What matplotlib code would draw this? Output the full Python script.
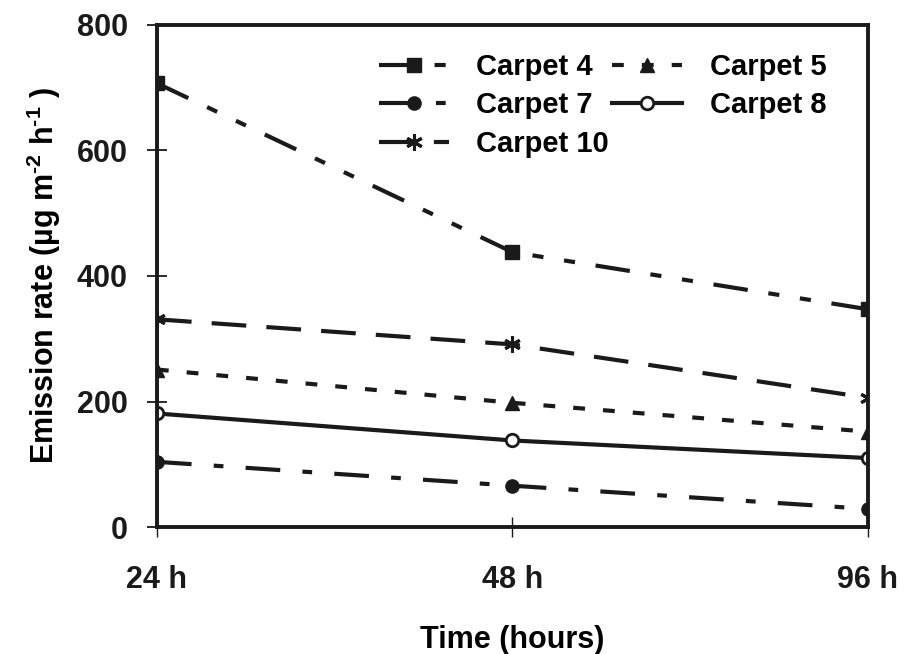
import matplotlib.pyplot as plt
import numpy as np

plt.rcParams['font.family'] = ['Liberation Sans', 'DejaVu Sans']
plt.rcParams['font.weight'] = 'bold'
plt.rcParams['mathtext.fontset'] = 'custom'
plt.rcParams['mathtext.rm'] = 'Liberation Sans:bold'
plt.rcParams['mathtext.bf'] = 'Liberation Sans:bold'
plt.rcParams['mathtext.default'] = 'bf'
plt.rcParams['lines.scale_dashes'] = False

# Data
times = ['24 h', '48 h', '96 h']
carpet4 = [707, 438, 347]
carpet5 = [251, 198, 152]
carpet7 = [104, 66, 29]
carpet8 = [181, 138, 110]
carpet10 = [331, 291, 206]

ink = '#1a1a1a'
x = np.arange(len(times))

fig = plt.figure(figsize=(9.07, 6.54), dpi=100)
ax = fig.add_axes([0.173, 0.194, 0.784, 0.768])

lw = 3
l4, = ax.plot(x, carpet4, color=ink, lw=lw, marker='s', ms=9.5, dashes=(25, 15, 8, 15, 8, 15), label='Carpet 4')
l5, = ax.plot(x, carpet5, color=ink, lw=lw, marker='^', ms=10, dashes=(8.5, 13), label='Carpet 5')
l7, = ax.plot(x, carpet7, color=ink, lw=lw, marker='o', ms=9.5, dashes=(25, 16, 7, 16), label='Carpet 7')
l8, = ax.plot(x, carpet8, color=ink, lw=lw, marker='o', ms=9, mfc='white', mew=2, label='Carpet 8')
l10, = ax.plot(x, carpet10, color=ink, lw=lw, marker=(6, 2, 0), ms=12, mew=2.2, dashes=(25, 14.5), label='Carpet 10')

ax.set_xlim(0, 2)
ax.set_ylim(0, 800)
ax.set_xticks(x)
ax.set_xticklabels(times)
ax.set_yticks([0, 200, 400, 600, 800])

for s in ax.spines.values():
    s.set_linewidth(2.8)
    s.set_color(ink)

ax.tick_params(axis='y', direction='inout', length=14, width=1.3, pad=14, labelsize=22, colors=ink)
ax.tick_params(axis='x', direction='inout', length=14, width=1, pad=20, labelsize=22, colors=ink)

ax.set_xlabel('Time (hours)', fontsize=22, fontweight='bold', labelpad=22)
ax.set_ylabel(r'Emission rate (µg m$^{\text{-2}}$ h$^{\text{-1}}$ )', fontsize=22, fontweight='bold', labelpad=10)

# row-major order as in the original legend
handles = [l4, l7, l10, l5, l8]
ax.legend(handles, [h.get_label() for h in handles], loc='upper right', bbox_to_anchor=(0.97, 0.985),
          ncol=2, frameon=False, fontsize=21, handlelength=2.4, handletextpad=0.95,
          columnspacing=0.1, labelspacing=0.36, borderaxespad=0.3)

fig.savefig('out.png', dpi=100)
